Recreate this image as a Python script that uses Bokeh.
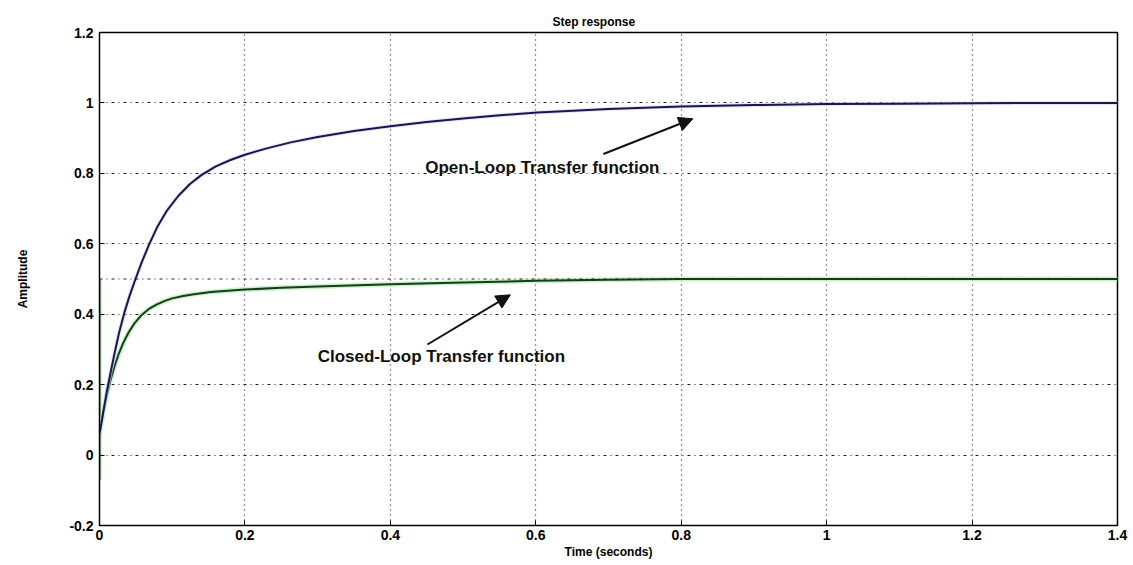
from bokeh.plotting import figure
from bokeh.models import Range1d, FixedTicker, Span, Label, Arrow, NormalHead
from bokeh.embed import file_html
from bokeh.resources import INLINE

# ---- data ----
t_open = [0.0, 0.005, 0.01, 0.015, 0.021, 0.027, 0.034, 0.041, 0.0495, 0.058, 0.068, 0.08,
          0.093, 0.108, 0.124, 0.14, 0.16, 0.18, 0.2, 0.23, 0.263, 0.3, 0.35, 0.4, 0.45, 0.5,
          0.551, 0.602, 0.7, 0.8, 0.9, 1.0, 1.1, 1.2, 1.3, 1.4]
y_open = [0.06, 0.12, 0.18, 0.232, 0.292, 0.348, 0.403, 0.45, 0.5, 0.547, 0.597, 0.65,
          0.695, 0.735, 0.769, 0.795, 0.82, 0.838, 0.853, 0.871, 0.888, 0.903, 0.92, 0.934, 0.946, 0.956,
          0.965, 0.973, 0.983, 0.99, 0.994, 0.997, 0.998, 0.999, 1.0, 1.0]

t_closed = [0.0, 0.0, 0.0, 0.005, 0.01, 0.015, 0.02, 0.026, 0.033, 0.04, 0.048, 0.058, 0.068,
            0.079, 0.09, 0.1, 0.115, 0.13, 0.153, 0.2, 0.25, 0.3, 0.4, 0.5, 0.6, 0.7, 0.8,
            1.0, 1.2, 1.4]
y_closed = [-0.07, 0.5, 0.06, 0.12, 0.17, 0.212, 0.248, 0.285, 0.32, 0.348, 0.374, 0.398, 0.415,
            0.428, 0.438, 0.445, 0.452, 0.457, 0.463, 0.47, 0.475, 0.479, 0.485, 0.49, 0.495, 0.498, 0.5,
            0.5, 0.5, 0.5]

x_ticks = [0, 0.2, 0.4, 0.6, 0.8, 1.0, 1.2, 1.4]
x_tick_labels = ["0", "0.2", "0.4", "0.6", "0.8", "1", "1.2", "1.4"]
y_ticks = [-0.2, 0, 0.2, 0.4, 0.6, 0.8, 1.0, 1.2]
y_tick_labels = ["-0.2", "0", "0.2", "0.4", "0.6", "0.8", "1", "1.2"]

title_text = "Step response"
x_label = "Time (seconds)"
y_label = "Amplitude"
open_label = "Open-Loop Transfer function"
closed_label = "Closed-Loop Transfer function"

FONT = "Liberation Sans"

p = figure(width=1133, height=565, output_backend="svg", toolbar_location=None,
           x_range=Range1d(0, 1.4), y_range=Range1d(-0.2, 1.2),
           min_border_left=99, min_border_right=16, min_border_top=32, min_border_bottom=40,
           background_fill_color="white", border_fill_color="white")

p.title.text = title_text
p.title.align = "left"
p.title.offset = 453
p.title.standoff = 8
p.title.text_font = FONT
p.title.text_font_style = "bold"
p.title.text_font_size = "12px"
p.title.text_color = "black"

p.outline_line_color = "black"
p.outline_line_width = 1.5

for ax in (p.xaxis[0], p.yaxis[0]):
    ax.major_tick_in = 5
    ax.major_tick_out = 0
    ax.minor_tick_line_color = None
    ax.axis_line_color = "black"
    ax.major_tick_line_color = "black"
    ax.major_label_text_font = FONT
    ax.major_label_text_font_style = "bold"
    ax.major_label_text_font_size = "14px"
    ax.major_label_text_color = "black"
    ax.axis_label_text_font = FONT
    ax.axis_label_text_font_style = "bold"
    ax.axis_label_text_font_size = "12px"
    ax.axis_label_text_color = "black"

p.xaxis.ticker = FixedTicker(ticks=x_ticks)
p.xaxis.major_label_overrides = {v: s for v, s in zip(x_ticks, x_tick_labels)}
p.yaxis.ticker = FixedTicker(ticks=y_ticks)
p.yaxis.major_label_overrides = {v: s for v, s in zip(y_ticks, y_tick_labels)}
p.xaxis.axis_label = x_label
p.yaxis.axis_label = y_label
p.xaxis.major_label_standoff = 4
p.xaxis.axis_label_standoff = 2
p.yaxis.major_label_standoff = 6
p.yaxis.axis_label_standoff = 36

p.xgrid.ticker = FixedTicker(ticks=x_ticks)
p.ygrid.ticker = FixedTicker(ticks=y_ticks)
p.xgrid.grid_line_color = "#222222"
p.xgrid.grid_line_dash = "1 4"
p.xgrid.grid_line_width = 1.2
p.ygrid.grid_line_color = "#222222"
p.ygrid.grid_line_dash = "3 4 1 4"
p.ygrid.grid_line_width = 1.0

# extra grid line at 0.5
p.add_layout(Span(location=0.5, dimension="width", line_color="#222222",
                  line_dash="3 4 1 4", line_width=1.0))

# curves with light halos
p.line(t_closed, y_closed, line_color="#b8ecb0", line_width=5, line_alpha=0.7)
p.line(t_closed, y_closed, line_color="#123d1e", line_width=2)
p.line(t_open, y_open, line_color="#cfd4f0", line_width=4, line_alpha=0.6)
p.line(t_open, y_open, line_color="#18184e", line_width=2)

# annotations
p.add_layout(Label(x=0.448, y=0.818, text=open_label, text_font=FONT, text_font_style="bold",
                   text_font_size="17px", text_color="#111111",
                   text_baseline="middle", text_align="left"))
p.add_layout(Label(x=0.30, y=0.281, text=closed_label, text_font=FONT, text_font_style="bold",
                   text_font_size="17px", text_color="#111111",
                   text_baseline="middle", text_align="left"))
p.add_layout(Arrow(x_start=0.693, y_start=0.855, x_end=0.816, y_end=0.955,
                   line_color="#111111", line_width=2,
                   end=NormalHead(size=14, fill_color="#111111", line_color="#111111")))
p.add_layout(Arrow(x_start=0.451, y_start=0.314, x_end=0.565, y_end=0.455,
                   line_color="#111111", line_width=2,
                   end=NormalHead(size=14, fill_color="#111111", line_color="#111111")))

open("out.html", "w").write(file_html(p, INLINE))
